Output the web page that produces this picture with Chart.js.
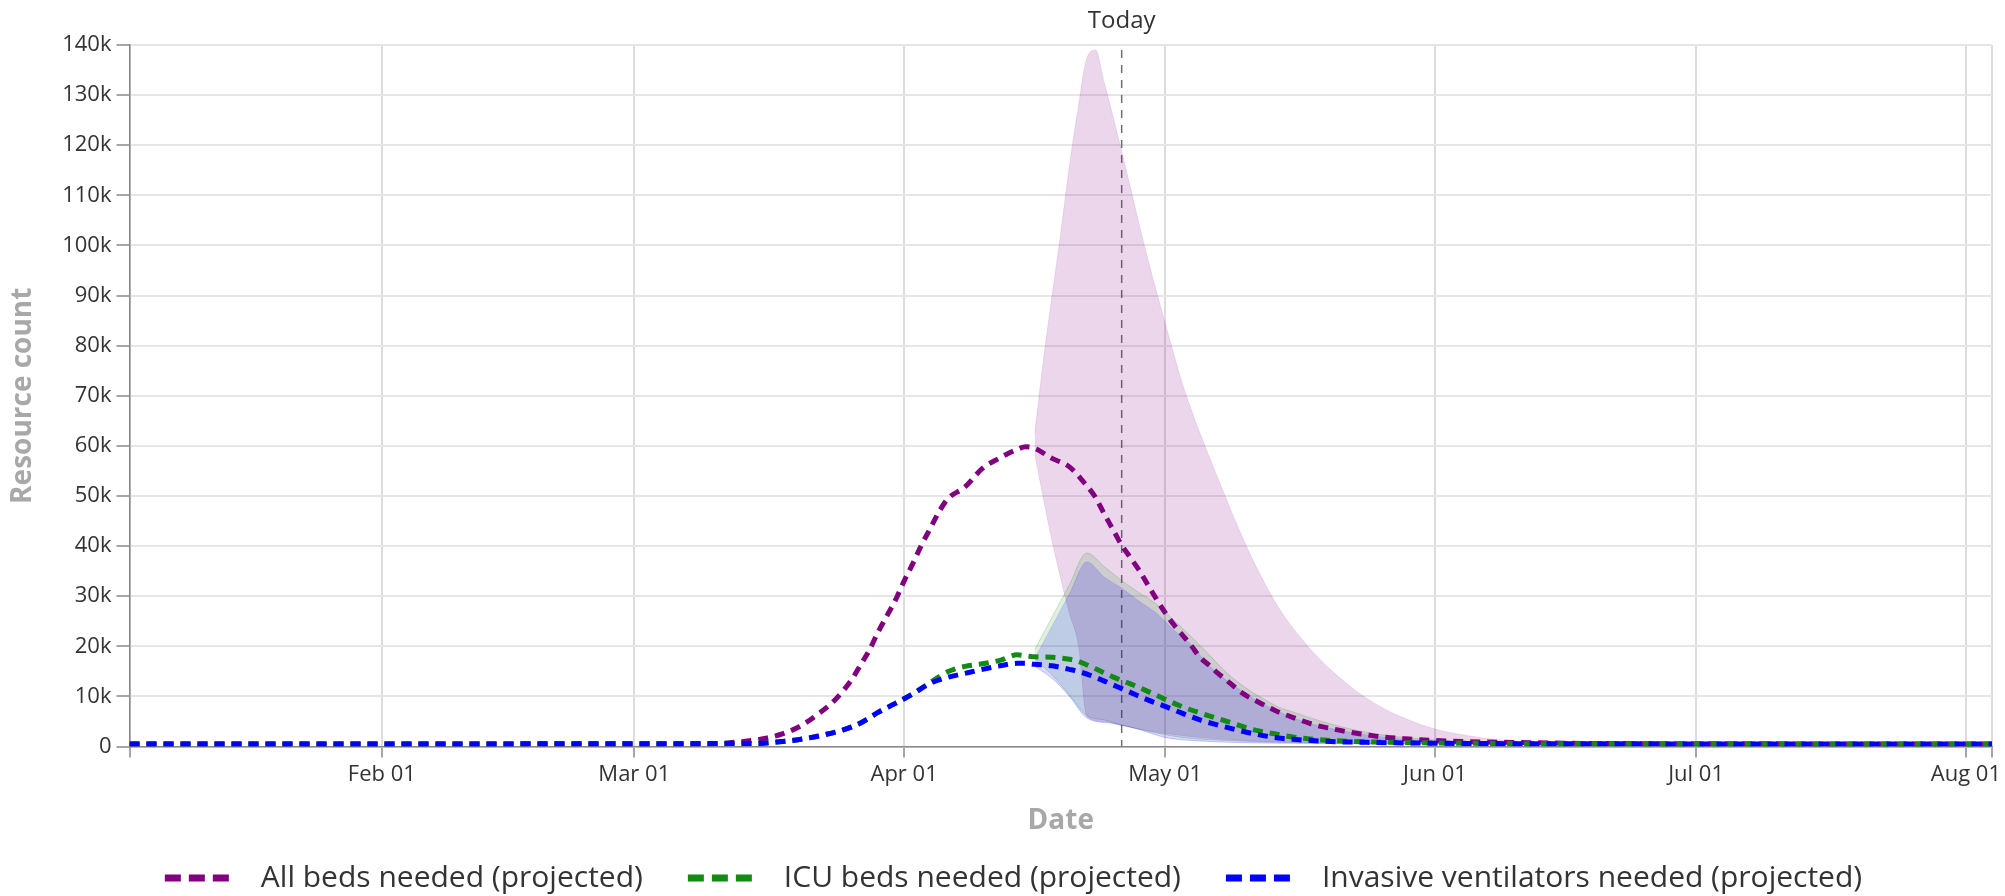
<!DOCTYPE html>
<html>
<head>
<meta charset="utf-8">
<script src="https://cdn.jsdelivr.net/npm/chart.js@4.4.1/dist/chart.umd.min.js"></script>
<style>
  html, body { margin: 0; padding: 0; background: #fff; }
</style>
</head>
<body>
<canvas id="chart" width="2005" height="896"></canvas>
<script>
// 🔹 DATA (values in thousands, dates are MM-DD of 2020)
const year = 2020;
const startDate = '01-03';
const endDate = '08-04';
const todayDate = '04-26';

const tickDates = ['02-01', '03-01', '04-01', '05-01', '06-01', '07-01', '08-01'];
const tickLabels = ['Feb 01', 'Mar 01', 'Apr 01', 'May 01', 'Jun 01', 'Jul 01', 'Aug 01'];

const seriesLabels = ['All beds needed (projected)', 'ICU beds needed (projected)', 'Invasive ventilators needed (projected)'];

const bedsDates = ['01-03','03-09','03-14','03-16','03-18','03-20','03-22','03-24','03-26','03-27','03-28','03-29','03-30','03-31','04-01','04-02','04-03','04-04','04-05','04-06','04-08','04-10','04-12','04-14','04-15','04-16','04-18','04-20','04-22','04-23','04-24','04-25','04-26','04-27','04-28','04-29','04-30','05-01','05-02','05-03','05-04','05-05','05-06','05-07','05-08','05-10','05-12','05-14','05-16','05-18','05-20','05-22','05-24','05-26','05-29','06-01','06-05','06-10','06-20','08-04'];
const bedsValues = [0.5,0.5,1.1,1.6,2.5,4.0,6.3,9.2,13.4,16.3,19.2,22.8,26.0,29.2,33.0,36.5,40.2,43.5,46.8,49.4,51.8,55.5,57.6,59.3,59.8,59.5,57.5,55.8,52.0,49.7,46.4,43.3,40.2,37.7,35.2,32.3,29.4,26.7,24.3,22.2,20.1,17.8,16.3,14.7,13.3,10.5,8.6,6.9,5.6,4.4,3.6,2.9,2.4,1.9,1.5,1.2,0.95,0.8,0.6,0.5];

const icuDates = ['01-03','03-15','03-18','03-20','03-23','03-25','03-27','03-29','03-31','04-02','04-04','04-06','04-08','04-10','04-12','04-14','04-15','04-16','04-18','04-20','04-21','04-23','04-25','04-27','04-29','05-01','05-03','05-05','05-07','05-09','05-11','05-14','05-16','05-20','05-25','06-01','06-15','08-04'];
const icuValues = [0.5,0.6,1.0,1.4,2.4,3.3,4.7,6.8,8.6,10.5,12.8,14.9,16.0,16.5,17.2,18.3,18.1,17.9,17.8,17.4,17.0,15.5,13.9,12.5,11.0,9.4,7.9,6.7,5.6,4.5,3.4,2.4,1.8,1.2,0.9,0.7,0.55,0.5];

const ventDates = icuDates;
const ventValues = [0.5,0.6,1.0,1.4,2.4,3.3,4.7,6.8,8.6,10.5,12.6,13.8,14.6,15.4,16.1,16.6,16.6,16.4,16.1,15.4,15.0,13.8,12.3,10.8,9.3,8.0,6.6,5.3,4.3,3.4,2.6,1.7,1.4,1.0,0.8,0.65,0.55,0.5];

// uncertainty bands
const bedsUpperDates = ['04-16','04-17','04-18','04-19','04-20','04-21','04-22','04-23','04-24','04-25','04-26','04-27','04-28','04-29','04-30','05-01','05-02','05-03','05-05','05-07','05-09','05-11','05-14','05-17','05-19','05-21','05-23','05-26','05-29','06-01','06-05','06-08','06-12','06-20'];
const bedsUpper = [62.5,77,90,102.5,116,127.5,137.4,139,132.5,125.8,118.8,111.6,104.3,97.3,90.8,84.5,78.3,72.3,62.5,53.8,45.3,37.5,27.8,20.8,17,13.8,11,7.7,5.3,3.5,2.1,1.4,0.8,0.6];
const bedsLowerDates = ['04-16','04-17','04-18','04-19','04-20','04-21','04-22','04-24','04-26','04-28','05-01','05-05','05-10','05-15','05-25','06-10'];
const bedsLower = [58.5,49.5,41,33.5,26.5,20.5,6,5,4.2,3.5,2.6,1.8,1.2,0.9,0.6,0.5];

const icuUpperDates = ['04-16','04-18','04-20','04-22','04-24','04-26','04-28','04-30','05-02','05-04','05-06','05-08','05-10','05-12','05-14','05-16','05-19','05-22','05-26','06-01','06-08','06-15'];
const icuUpper = [19.3,25.8,32.3,38.6,35.9,33.1,30.7,28.4,25.2,21.9,18.4,14.8,12.0,9.8,7.9,6.7,5.0,3.6,2.3,1.3,0.8,0.55];
const icuLowerDates = ['04-16','04-18','04-20','04-22','04-24','04-27','04-30','05-03','05-08','05-15','05-25','06-10'];
const icuLower = [17.5,14.3,10.3,6.2,5.3,3.9,2.7,1.8,1.2,0.8,0.6,0.5];

const ventUpperDates = ['04-16','04-18','04-20','04-22','04-24','04-26','04-28','04-30','05-02','05-04','05-06','05-09','05-11','05-14','05-16','05-19','05-23','05-28','06-03','06-10'];
const ventUpper = [17.5,24,30.5,36.8,33.8,31.6,29,26.6,23.2,20.3,16.2,12,9.7,7,5.5,4.0,2.6,1.5,0.9,0.6];
const ventLowerDates = ['04-16','04-18','04-20','04-22','04-25','04-28','05-01','05-05','05-12','05-25','06-10'];
const ventLower = [16.0,13.6,10.0,5.7,4.6,3.4,1.8,1.1,0.7,0.55,0.5];

// 🔹 HELPERS
const FONT = '"Open Sans", "Noto Sans", sans-serif';

function day(md) {
  return (Date.UTC(year, +md.slice(0, 2) - 1, +md.slice(3, 5)) - Date.UTC(year, 0, 1)) / 864e5;
}

function pts(dates, vals) {
  return dates.map((d, i) => ({ x: day(d), y: vals[i] }));
}

function meanLine(label, color, dates, vals, order) {
  return {
    label: label,
    data: pts(dates, vals),
    borderColor: color,
    backgroundColor: color,
    borderWidth: 5,
    borderDash: [10, 7],
    pointRadius: 0,
    fill: false,
    cubicInterpolationMode: 'monotone',
    order: order
  };
}

function bandEdge(dates, vals, fill, edge, order) {
  return {
    label: '',
    data: pts(dates, vals),
    borderColor: edge,
    borderWidth: 1,
    backgroundColor: fill,
    pointRadius: 0,
    fill: fill ? '+1' : false,
    cubicInterpolationMode: 'monotone',
    order: order
  };
}

// 🔹 TODAY MARKER
const todayPlugin = {
  id: 'today',
  beforeDatasetsDraw(chart) {
    const { ctx, chartArea, scales } = chart;
    const x = scales.x.getPixelForValue(day(todayDate));
    ctx.save();
    ctx.strokeStyle = '#6e6e6e';
    ctx.lineWidth = 1.5;
    ctx.setLineDash([8, 7]);
    ctx.beginPath();
    ctx.moveTo(x, chartArea.top + 5);
    ctx.lineTo(x, chartArea.bottom);
    ctx.stroke();
    ctx.setLineDash([]);
    ctx.fillStyle = '#333';
    ctx.font = '24px ' + FONT;
    ctx.textAlign = 'center';
    ctx.textBaseline = 'middle';
    ctx.fillText('Today', x, 21);
    ctx.restore();
  }
};

// 🔹 CHART
Chart.defaults.font.family = FONT;

const ctx = document.getElementById('chart').getContext('2d');
new Chart(ctx, {
  type: 'line',
  data: {
    datasets: [
      meanLine(seriesLabels[0], '#800080', bedsDates, bedsValues, 2),
      meanLine(seriesLabels[1], '#138a13', icuDates, icuValues, 1),
      meanLine(seriesLabels[2], '#0000ff', ventDates, ventValues, 0),
      bandEdge(bedsUpperDates, bedsUpper, 'rgba(128,0,128,0.16)', 'rgba(128,0,128,0.10)', 5),
      bandEdge(bedsLowerDates, bedsLower, null, 'rgba(128,0,128,0.10)', 5),
      bandEdge(icuUpperDates, icuUpper, 'rgba(0,128,0,0.12)', 'rgba(0,128,0,0.2)', 4),
      bandEdge(icuLowerDates, icuLower, null, 'rgba(0,128,0,0.2)', 4),
      bandEdge(ventUpperDates, ventUpper, 'rgba(0,0,255,0.15)', 'rgba(0,0,255,0.12)', 3),
      bandEdge(ventLowerDates, ventLower, null, 'rgba(0,0,255,0.2)', 3)
    ]
  },
  options: {
    responsive: false,
    animation: false,
    layout: { padding: { top: 45, right: 13, bottom: -7, left: 0 } },
    plugins: {
      tooltip: { enabled: false },
      legend: {
        position: 'bottom',
        labels: {
          usePointStyle: true,
          pointStyle: 'line',
          pointStyleWidth: 116,
          padding: 10,
          color: '#333',
          font: { size: 30 },
          generateLabels: chart => Chart.defaults.plugins.legend.labels.generateLabels(chart).map(it => {
            it.lineDash = [0, 35, 16, 8, 16, 8, 16, 17];
            it.lineWidth = 7;
            return it;
          }),
          filter: item => item.datasetIndex < 3,
          sort: (a, b) => a.datasetIndex - b.datasetIndex
        }
      }
    },
    scales: {
      x: {
        type: 'linear',
        min: day(startDate),
        max: day(endDate),
        afterBuildTicks: s => {
          s.ticks = [s.min].concat(tickDates.map(day), [s.max]).map(v => ({ value: v }));
        },
        afterFit: s => { s.height = 106.5; },
        ticks: {
          autoSkip: false,
          maxRotation: 0,
          color: '#333',
          font: { size: 22 },
          padding: 4,
          callback: v => {
            const i = tickDates.map(day).indexOf(v);
            return i >= 0 ? tickLabels[i] : '';
          }
        },
        grid: { color: '#dcdcdc', lineWidth: 2, tickLength: 11, tickColor: '#888', tickWidth: 1.5 },
        border: { color: '#888', width: 1.5 },
        title: {
          display: true,
          text: 'Date',
          color: '#a8a8a8',
          font: { size: 28, weight: 'bold' },
          padding: { top: 0, bottom: 15 }
        }
      },
      y: {
        min: 0,
        max: 140,
        afterFit: s => { s.width = 129.5; },
        ticks: {
          stepSize: 10,
          color: '#333',
          font: { size: 22 },
          padding: 5,
          callback: v => v === 0 ? '0' : v + 'k'
        },
        grid: { color: '#e6e6e6', lineWidth: 2, tickLength: 13, tickColor: '#888', tickWidth: 1.5 },
        border: { color: '#888', width: 1.5 },
        title: {
          display: true,
          text: 'Resource count',
          color: '#a8a8a8',
          font: { size: 28, weight: 'bold' },
          padding: { top: 6, bottom: 0 }
        }
      }
    }
  },
  plugins: [todayPlugin]
});
</script>
</body>
</html>
